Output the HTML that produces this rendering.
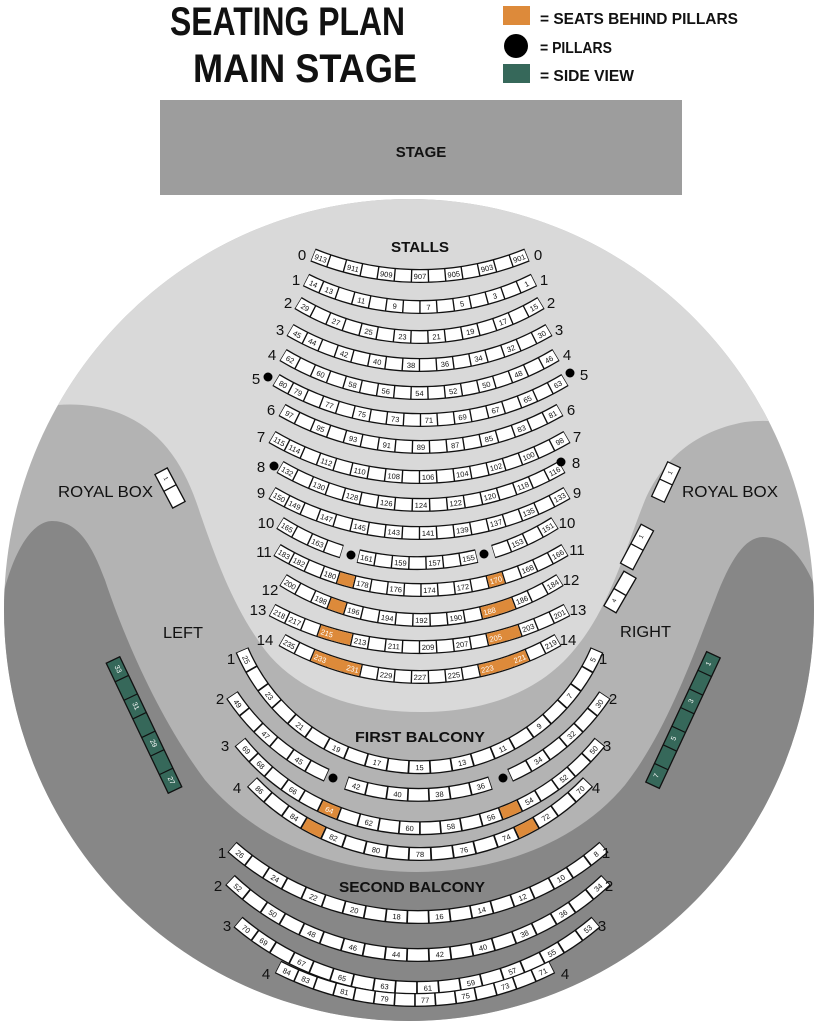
<!DOCTYPE html>
<html><head><meta charset="utf-8"><style>
html,body{margin:0;padding:0;background:#fff}
svg{display:block}
.b{fill:none;stroke:#111;stroke-width:14}
.w{fill:none;stroke:#fff;stroke-width:11.4;stroke-dasharray:.92 .08;stroke-dashoffset:-.04}
.o{fill:none;stroke:#dd8a3a;stroke-width:11.4}
.n{font-family:"Liberation Sans",sans-serif;font-size:7.5px;dominant-baseline:central;text-anchor:middle;fill:#111}
.nw{fill:#fff}
.rl{font-family:"Liberation Sans",sans-serif;font-size:15px;text-anchor:middle;fill:#111}
.lb{font-family:"Liberation Sans",sans-serif;font-weight:bold;fill:#111}
</style></head><body>
<svg width="818" height="1024" viewBox="0 0 818 1024" xmlns="http://www.w3.org/2000/svg">
<defs>
<clipPath id="cl"><ellipse cx="409" cy="610" rx="405" ry="411"/></clipPath>
<path id="s0" d="M313,255 A283,283 0 0 0 527,255" pathLength="13"/>
<path id="s1" d="M306,280 A254,254 0 0 0 534,280" pathLength="14"/>
<path id="s2" d="M298,303 A234,234 0 0 0 541,303" pathLength="15"/>
<path id="s3" d="M290,330 A257,257 0 0 0 549,330" pathLength="16"/>
<path id="s4" d="M283,355 A264,264 0 0 0 556,355" pathLength="17"/>
<path id="s5" d="M276,380 A281,281 0 0 0 565,380" pathLength="18"/>
<path id="s6" d="M282,410 A280,280 0 0 0 560,410" pathLength="17"/>
<path id="s7" d="M272,437 A292,292 0 0 0 567,437" pathLength="18"/>
<path id="s8" d="M280,467 A281,281 0 0 0 562,467" pathLength="17"/>
<path id="s9" d="M272,493 A292,292 0 0 0 567,493" pathLength="18"/>
<path id="s10" d="M280,523 A256,256 0 0 0 555,523" pathLength="17"/>
<path id="s11" d="M277,550 A279,279 0 0 0 565,550" pathLength="18"/>
<path id="s12" d="M283,580 A260,260 0 0 0 560,580" pathLength="17"/>
<path id="s13" d="M272,610 A312,312 0 0 0 567,610" pathLength="18"/>
<path id="s14" d="M282,640 A276,276 0 0 0 558,640" pathLength="17"/>
<path id="f1" d="M242,650 A193,193 0 0 0 597,650" pathLength="21"/>
<path id="f2" d="M232,695 A224,224 0 0 0 605,695" pathLength="21"/>
<path id="f3" d="M240,742 A231,231 0 0 0 600,742" pathLength="20"/>
<path id="f4" d="M252,782 A232,232 0 0 0 588,782" pathLength="17"/>
<path id="b1" d="M232,847 A282,282 0 0 0 604,847" pathLength="19"/>
<path id="b2" d="M230,880 A273,273 0 0 0 606,880" pathLength="19"/>
<path id="b3" d="M238,922 A276,276 0 0 0 596,922" pathLength="18"/>
<path id="b4" d="M278,967 A301,301 0 0 0 552,967" pathLength="14"/>
</defs>

<!-- Title & legend -->
<text class="lb" x="170" y="35" font-size="40" textLength="235" lengthAdjust="spacingAndGlyphs">SEATING PLAN</text>
<text class="lb" x="193" y="82" font-size="40" textLength="224" lengthAdjust="spacingAndGlyphs">MAIN STAGE</text>
<rect x="503" y="6" width="27" height="19" fill="#dd8a3a"/>
<circle cx="516" cy="46" r="12" fill="#000"/>
<rect x="503" y="64" width="27" height="19" fill="#36685a"/>
<text class="lb" x="540" y="24" font-size="16" textLength="198" lengthAdjust="spacingAndGlyphs">= SEATS BEHIND PILLARS</text>
<text class="lb" x="540" y="53" font-size="16" textLength="72" lengthAdjust="spacingAndGlyphs">= PILLARS</text>
<text class="lb" x="540" y="81" font-size="16" textLength="94" lengthAdjust="spacingAndGlyphs">= SIDE VIEW</text>

<!-- Stage -->
<rect x="160" y="100" width="522" height="95" fill="#9d9d9d"/>
<text class="lb" x="421" y="157" font-size="15" text-anchor="middle">STAGE</text>

<!-- Auditorium background -->
<g clip-path="url(#cl)">
<rect x="0" y="190" width="818" height="834" fill="#b3b3b3"/>
<path fill="#d9d9d9" d="M-5,180 H823 V440 C800,425 780,418 745,422 C700,430 665,455 645,500 C625,550 610,605 578,645 C540,695 480,712 420,712 C360,712 300,695 265,650 C235,610 218,565 200,513 C185,465 160,425 110,410 C80,401 40,402 -5,420 Z"/>
<path fill="#878787" d="M-5,640 C5,560 30,521 52,521 C78,521 92,545 105,580 C125,640 160,720 205,780 C260,845 340,872 417,872 C494,872 575,845 625,785 C668,730 695,650 715,600 C730,560 745,537 763,537 C790,537 810,565 823,610 V1030 H-5 Z"/>
</g>

<!-- Labels -->
<text class="lb" x="420" y="252" font-size="15" text-anchor="middle" textLength="58" lengthAdjust="spacingAndGlyphs">STALLS</text>
<text class="lb" x="58" y="497" font-size="16" textLength="95" lengthAdjust="spacingAndGlyphs" style="font-weight:normal">ROYAL BOX</text>
<text class="lb" x="682" y="497" font-size="16" textLength="96" lengthAdjust="spacingAndGlyphs" style="font-weight:normal">ROYAL BOX</text>
<text class="lb" x="163" y="638" font-size="16" textLength="40" lengthAdjust="spacingAndGlyphs" style="font-weight:normal">LEFT</text>
<text class="lb" x="620" y="637" font-size="16" textLength="51" lengthAdjust="spacingAndGlyphs" style="font-weight:normal">RIGHT</text>
<text class="lb" x="420" y="742" font-size="15" text-anchor="middle" textLength="130" lengthAdjust="spacingAndGlyphs">FIRST BALCONY</text>
<text class="lb" x="412" y="892" font-size="15" text-anchor="middle" textLength="146" lengthAdjust="spacingAndGlyphs">SECOND BALCONY</text>

<!-- Stalls rows -->
<g>
<use href="#s0" class="b"/><use href="#s0" class="w"/>
<use href="#s1" class="b"/><use href="#s1" class="w"/>
<use href="#s2" class="b"/><use href="#s2" class="w"/>
<use href="#s3" class="b"/><use href="#s3" class="w"/>
<use href="#s4" class="b"/><use href="#s4" class="w"/>
<use href="#s5" class="b"/><use href="#s5" class="w"/>
<use href="#s6" class="b"/><use href="#s6" class="w"/>
<use href="#s7" class="b"/><use href="#s7" class="w"/>
<use href="#s8" class="b"/><use href="#s8" class="w"/>
<use href="#s9" class="b"/><use href="#s9" class="w"/>
<use href="#s10" class="b" style="stroke-dasharray:4 1 7 1 4"/>
<use href="#s10" class="w" style="stroke-dashoffset:0;stroke-dasharray:0 .04 .92 .08 .92 .08 .92 .08 .92 1.08 .92 .08 .92 .08 .92 .08 .92 .08 .92 .08 .92 .08 .92 1.08 .92 .08 .92 .08 .92 .08 .92 100"/>
<use href="#s11" class="b"/><use href="#s11" class="w"/>
<use href="#s11" class="o" style="stroke-dasharray:0 4.04 .92 8.08 .92 100"/>
<use href="#s12" class="b"/><use href="#s12" class="w"/>
<use href="#s12" class="o" style="stroke-dasharray:0 3.04 .92 8.08 1.92 100"/>
<use href="#s13" class="b"/><use href="#s13" class="w"/>
<use href="#s13" class="o" style="stroke-dasharray:0 3.04 1.92 8.08 1.92 100"/>
<use href="#s14" class="b"/><use href="#s14" class="w"/>
<use href="#s14" class="o" style="stroke-dasharray:0 2.04 2.92 7.08 2.92 100"/>
</g>

<text class="n"><textPath href="#s0" startOffset="3.85%">913</textPath><textPath href="#s0" startOffset="19.23%">911</textPath><textPath href="#s0" startOffset="34.62%">909</textPath><textPath href="#s0" startOffset="50%">907</textPath><textPath href="#s0" startOffset="65.38%">905</textPath><textPath href="#s0" startOffset="80.77%">903</textPath><textPath href="#s0" startOffset="96.15%">901</textPath></text>
<text class="n"><textPath href="#s1" startOffset="3.57%">14</textPath><textPath href="#s1" startOffset="10.71%">13</textPath><textPath href="#s1" startOffset="25%">11</textPath><textPath href="#s1" startOffset="39.29%">9</textPath><textPath href="#s1" startOffset="53.57%">7</textPath><textPath href="#s1" startOffset="67.86%">5</textPath><textPath href="#s1" startOffset="82.14%">3</textPath><textPath href="#s1" startOffset="96.43%">1</textPath></text>
<text class="n"><textPath href="#s2" startOffset="3.33%">29</textPath><textPath href="#s2" startOffset="16.67%">27</textPath><textPath href="#s2" startOffset="30%">25</textPath><textPath href="#s2" startOffset="43.33%">23</textPath><textPath href="#s2" startOffset="56.67%">21</textPath><textPath href="#s2" startOffset="70%">19</textPath><textPath href="#s2" startOffset="83.33%">17</textPath><textPath href="#s2" startOffset="96.67%">15</textPath></text>
<text class="n"><textPath href="#s3" startOffset="3.13%">45</textPath><textPath href="#s3" startOffset="9.38%">44</textPath><textPath href="#s3" startOffset="21.88%">42</textPath><textPath href="#s3" startOffset="34.38%">40</textPath><textPath href="#s3" startOffset="46.88%">38</textPath><textPath href="#s3" startOffset="59.38%">36</textPath><textPath href="#s3" startOffset="71.88%">34</textPath><textPath href="#s3" startOffset="84.38%">32</textPath><textPath href="#s3" startOffset="96.88%">30</textPath></text>
<text class="n"><textPath href="#s4" startOffset="2.94%">62</textPath><textPath href="#s4" startOffset="14.71%">60</textPath><textPath href="#s4" startOffset="26.47%">58</textPath><textPath href="#s4" startOffset="38.24%">56</textPath><textPath href="#s4" startOffset="50%">54</textPath><textPath href="#s4" startOffset="61.76%">52</textPath><textPath href="#s4" startOffset="73.53%">50</textPath><textPath href="#s4" startOffset="85.29%">48</textPath><textPath href="#s4" startOffset="97.06%">46</textPath></text>
<text class="n"><textPath href="#s5" startOffset="2.78%">80</textPath><textPath href="#s5" startOffset="8.33%">79</textPath><textPath href="#s5" startOffset="19.44%">77</textPath><textPath href="#s5" startOffset="30.56%">75</textPath><textPath href="#s5" startOffset="41.67%">73</textPath><textPath href="#s5" startOffset="52.78%">71</textPath><textPath href="#s5" startOffset="63.89%">69</textPath><textPath href="#s5" startOffset="75%">67</textPath><textPath href="#s5" startOffset="86.11%">65</textPath><textPath href="#s5" startOffset="97.22%">63</textPath></text>
<text class="n"><textPath href="#s6" startOffset="2.94%">97</textPath><textPath href="#s6" startOffset="14.71%">95</textPath><textPath href="#s6" startOffset="26.47%">93</textPath><textPath href="#s6" startOffset="38.24%">91</textPath><textPath href="#s6" startOffset="50%">89</textPath><textPath href="#s6" startOffset="61.76%">87</textPath><textPath href="#s6" startOffset="73.53%">85</textPath><textPath href="#s6" startOffset="85.29%">83</textPath><textPath href="#s6" startOffset="97.06%">81</textPath></text>
<text class="n"><textPath href="#s7" startOffset="2.78%">115</textPath><textPath href="#s7" startOffset="8.33%">114</textPath><textPath href="#s7" startOffset="19.44%">112</textPath><textPath href="#s7" startOffset="30.56%">110</textPath><textPath href="#s7" startOffset="41.67%">108</textPath><textPath href="#s7" startOffset="52.78%">106</textPath><textPath href="#s7" startOffset="63.89%">104</textPath><textPath href="#s7" startOffset="75%">102</textPath><textPath href="#s7" startOffset="86.11%">100</textPath><textPath href="#s7" startOffset="97.22%">98</textPath></text>
<text class="n"><textPath href="#s8" startOffset="2.94%">132</textPath><textPath href="#s8" startOffset="14.71%">130</textPath><textPath href="#s8" startOffset="26.47%">128</textPath><textPath href="#s8" startOffset="38.24%">126</textPath><textPath href="#s8" startOffset="50%">124</textPath><textPath href="#s8" startOffset="61.76%">122</textPath><textPath href="#s8" startOffset="73.53%">120</textPath><textPath href="#s8" startOffset="85.29%">118</textPath><textPath href="#s8" startOffset="97.06%">116</textPath></text>
<text class="n"><textPath href="#s9" startOffset="2.78%">150</textPath><textPath href="#s9" startOffset="8.33%">149</textPath><textPath href="#s9" startOffset="19.44%">147</textPath><textPath href="#s9" startOffset="30.56%">145</textPath><textPath href="#s9" startOffset="41.67%">143</textPath><textPath href="#s9" startOffset="52.78%">141</textPath><textPath href="#s9" startOffset="63.89%">139</textPath><textPath href="#s9" startOffset="75%">137</textPath><textPath href="#s9" startOffset="86.11%">135</textPath><textPath href="#s9" startOffset="97.22%">133</textPath></text>
<text class="n"><textPath href="#s10" startOffset="2.94%">165</textPath><textPath href="#s10" startOffset="14.71%">163</textPath><textPath href="#s10" startOffset="32.35%">161</textPath><textPath href="#s10" startOffset="44.12%">159</textPath><textPath href="#s10" startOffset="55.88%">157</textPath><textPath href="#s10" startOffset="67.65%">155</textPath><textPath href="#s10" startOffset="85.29%">153</textPath><textPath href="#s10" startOffset="97.06%">151</textPath></text>
<text class="n"><textPath href="#s11" startOffset="2.78%">183</textPath><textPath href="#s11" startOffset="8.33%">182</textPath><textPath href="#s11" startOffset="19.44%">180</textPath><textPath href="#s11" startOffset="30.56%">178</textPath><textPath href="#s11" startOffset="41.67%">176</textPath><textPath href="#s11" startOffset="52.78%">174</textPath><textPath href="#s11" startOffset="63.89%">172</textPath><textPath href="#s11" startOffset="75%" class="nw">170</textPath><textPath href="#s11" startOffset="86.11%">168</textPath><textPath href="#s11" startOffset="97.22%">166</textPath></text>
<text class="n"><textPath href="#s12" startOffset="2.94%">200</textPath><textPath href="#s12" startOffset="14.71%">198</textPath><textPath href="#s12" startOffset="26.47%">196</textPath><textPath href="#s12" startOffset="38.24%">194</textPath><textPath href="#s12" startOffset="50%">192</textPath><textPath href="#s12" startOffset="61.76%">190</textPath><textPath href="#s12" startOffset="73.53%" class="nw">188</textPath><textPath href="#s12" startOffset="85.29%">186</textPath><textPath href="#s12" startOffset="97.06%">184</textPath></text>
<text class="n"><textPath href="#s13" startOffset="2.78%">218</textPath><textPath href="#s13" startOffset="8.33%">217</textPath><textPath href="#s13" startOffset="19.44%" class="nw">215</textPath><textPath href="#s13" startOffset="30.56%">213</textPath><textPath href="#s13" startOffset="41.67%">211</textPath><textPath href="#s13" startOffset="52.78%">209</textPath><textPath href="#s13" startOffset="63.89%">207</textPath><textPath href="#s13" startOffset="75%" class="nw">205</textPath><textPath href="#s13" startOffset="86.11%">203</textPath><textPath href="#s13" startOffset="97.22%">201</textPath></text>
<text class="n"><textPath href="#s14" startOffset="2.94%">235</textPath><textPath href="#s14" startOffset="14.71%" class="nw">233</textPath><textPath href="#s14" startOffset="26.47%" class="nw">231</textPath><textPath href="#s14" startOffset="38.24%">229</textPath><textPath href="#s14" startOffset="50%">227</textPath><textPath href="#s14" startOffset="61.76%">225</textPath><textPath href="#s14" startOffset="73.53%" class="nw">223</textPath><textPath href="#s14" startOffset="85.29%" class="nw">221</textPath><textPath href="#s14" startOffset="97.06%">219</textPath></text>

<!-- Stalls row labels -->
<g class="rl">
<text x="302" y="260">0</text><text x="538" y="260">0</text>
<text x="296" y="285">1</text><text x="544" y="285">1</text>
<text x="288" y="308">2</text><text x="551" y="308">2</text>
<text x="280" y="335">3</text><text x="559" y="335">3</text>
<text x="272" y="360">4</text><text x="567" y="360">4</text>
<text x="256" y="384">5</text><text x="584" y="380">5</text>
<text x="271" y="415">6</text><text x="571" y="415">6</text>
<text x="261" y="442">7</text><text x="577" y="442">7</text>
<text x="261" y="472">8</text><text x="576" y="468">8</text>
<text x="261" y="498">9</text><text x="577" y="498">9</text>
<text x="266" y="528">10</text><text x="567" y="528">10</text>
<text x="264" y="557">11</text><text x="577" y="555">11</text>
<text x="270" y="595">12</text><text x="571" y="585">12</text>
<text x="258" y="615">13</text><text x="578" y="615">13</text>
<text x="265" y="645">14</text><text x="568" y="645">14</text>
</g>
<g fill="#000">
<circle cx="268" cy="377" r="4.5"/><circle cx="570" cy="373" r="4.5"/>
<circle cx="274" cy="466" r="4.5"/><circle cx="561" cy="462" r="4.5"/>
<circle cx="351" cy="555" r="4.5"/><circle cx="484" cy="554" r="4.5"/>
<circle cx="333" cy="778" r="4.5"/><circle cx="503" cy="778" r="4.5"/>
</g>

<!-- First balcony -->
<use href="#f1" class="b"/><use href="#f1" class="w"/>
<use href="#f2" class="b" style="stroke-dasharray:6 1 7 1 6"/>
<use href="#f2" class="w" style="stroke-dashoffset:0;stroke-dasharray:0 .04 .92 .08 .92 .08 .92 .08 .92 .08 .92 .08 .92 1.08 .92 .08 .92 .08 .92 .08 .92 .08 .92 .08 .92 .08 .92 1.08 .92 .08 .92 .08 .92 .08 .92 .08 .92 .08 .92 100"/>
<use href="#f3" class="b"/><use href="#f3" class="w"/>
<use href="#f3" class="o" style="stroke-dasharray:0 5.04 .92 8.08 .92 100"/>
<use href="#f4" class="b"/><use href="#f4" class="w"/>
<use href="#f4" class="o" style="stroke-dasharray:0 3.04 .92 9.08 .92 100"/>

<text class="n"><textPath href="#f1" startOffset="2.38%">25</textPath><textPath href="#f1" startOffset="11.9%">23</textPath><textPath href="#f1" startOffset="21.43%">21</textPath><textPath href="#f1" startOffset="30.95%">19</textPath><textPath href="#f1" startOffset="40.48%">17</textPath><textPath href="#f1" startOffset="50%">15</textPath><textPath href="#f1" startOffset="59.52%">13</textPath><textPath href="#f1" startOffset="69.05%">11</textPath><textPath href="#f1" startOffset="78.57%">9</textPath><textPath href="#f1" startOffset="88.1%">7</textPath><textPath href="#f1" startOffset="97.62%">5</textPath></text>
<text class="n"><textPath href="#f2" startOffset="2.38%">49</textPath><textPath href="#f2" startOffset="11.9%">47</textPath><textPath href="#f2" startOffset="21.43%">45</textPath><textPath href="#f2" startOffset="35.71%">42</textPath><textPath href="#f2" startOffset="45.24%">40</textPath><textPath href="#f2" startOffset="54.76%">38</textPath><textPath href="#f2" startOffset="64.29%">36</textPath><textPath href="#f2" startOffset="78.57%">34</textPath><textPath href="#f2" startOffset="88.1%">32</textPath><textPath href="#f2" startOffset="97.62%">30</textPath></text>
<text class="n"><textPath href="#f3" startOffset="2.5%">69</textPath><textPath href="#f3" startOffset="7.5%">68</textPath><textPath href="#f3" startOffset="17.5%">66</textPath><textPath href="#f3" startOffset="27.5%" class="nw">64</textPath><textPath href="#f3" startOffset="37.5%">62</textPath><textPath href="#f3" startOffset="47.5%">60</textPath><textPath href="#f3" startOffset="57.5%">58</textPath><textPath href="#f3" startOffset="67.5%">56</textPath><textPath href="#f3" startOffset="77.5%">54</textPath><textPath href="#f3" startOffset="87.5%">52</textPath><textPath href="#f3" startOffset="97.5%">50</textPath></text>
<text class="n"><textPath href="#f4" startOffset="2.94%">86</textPath><textPath href="#f4" startOffset="14.71%">84</textPath><textPath href="#f4" startOffset="26.47%">82</textPath><textPath href="#f4" startOffset="38.24%">80</textPath><textPath href="#f4" startOffset="50%">78</textPath><textPath href="#f4" startOffset="61.76%">76</textPath><textPath href="#f4" startOffset="73.53%">74</textPath><textPath href="#f4" startOffset="85.29%">72</textPath><textPath href="#f4" startOffset="97.06%">70</textPath></text>
<g class="rl">
<text x="231" y="664">1</text><text x="603" y="664">1</text>
<text x="220" y="704">2</text><text x="613" y="704">2</text>
<text x="225" y="751">3</text><text x="607" y="751">3</text>
<text x="237" y="793">4</text><text x="596" y="793">4</text>
</g>

<!-- Second balcony -->
<use href="#b1" class="b"/><use href="#b1" class="w"/>
<use href="#b2" class="b"/><use href="#b2" class="w"/>
<use href="#b3" class="b"/><use href="#b3" class="w"/>
<use href="#b4" class="b"/><use href="#b4" class="w"/>
<text class="n"><textPath href="#b1" startOffset="2.63%">26</textPath><textPath href="#b1" startOffset="13.16%">24</textPath><textPath href="#b1" startOffset="23.68%">22</textPath><textPath href="#b1" startOffset="34.21%">20</textPath><textPath href="#b1" startOffset="44.74%">18</textPath><textPath href="#b1" startOffset="55.26%">16</textPath><textPath href="#b1" startOffset="65.79%">14</textPath><textPath href="#b1" startOffset="76.32%">12</textPath><textPath href="#b1" startOffset="86.84%">10</textPath><textPath href="#b1" startOffset="97.37%">8</textPath></text>
<text class="n"><textPath href="#b2" startOffset="2.63%">52</textPath><textPath href="#b2" startOffset="13.16%">50</textPath><textPath href="#b2" startOffset="23.68%">48</textPath><textPath href="#b2" startOffset="34.21%">46</textPath><textPath href="#b2" startOffset="44.74%">44</textPath><textPath href="#b2" startOffset="55.26%">42</textPath><textPath href="#b2" startOffset="65.79%">40</textPath><textPath href="#b2" startOffset="76.32%">38</textPath><textPath href="#b2" startOffset="86.84%">36</textPath><textPath href="#b2" startOffset="97.37%">34</textPath></text>
<text class="n"><textPath href="#b3" startOffset="2.78%">70</textPath><textPath href="#b3" startOffset="8.33%">69</textPath><textPath href="#b3" startOffset="19.44%">67</textPath><textPath href="#b3" startOffset="30.56%">65</textPath><textPath href="#b3" startOffset="41.67%">63</textPath><textPath href="#b3" startOffset="52.78%">61</textPath><textPath href="#b3" startOffset="63.89%">59</textPath><textPath href="#b3" startOffset="75%">57</textPath><textPath href="#b3" startOffset="86.11%">55</textPath><textPath href="#b3" startOffset="97.22%">53</textPath></text>
<text class="n"><textPath href="#b4" startOffset="3.57%">84</textPath><textPath href="#b4" startOffset="10.71%">83</textPath><textPath href="#b4" startOffset="25%">81</textPath><textPath href="#b4" startOffset="39.29%">79</textPath><textPath href="#b4" startOffset="53.57%">77</textPath><textPath href="#b4" startOffset="67.86%">75</textPath><textPath href="#b4" startOffset="82.14%">73</textPath><textPath href="#b4" startOffset="96.43%">71</textPath></text>
<g class="rl">
<text x="222" y="858">1</text><text x="606" y="858">1</text>
<text x="218" y="891">2</text><text x="609" y="891">2</text>
<text x="227" y="931">3</text><text x="602" y="931">3</text>
<text x="266" y="979">4</text><text x="565" y="979">4</text>
</g>

<!-- Royal boxes -->
<g stroke="#111" stroke-width="1.3" fill="#fff">
<g transform="translate(170,488) rotate(-28)"><rect x="-7" y="-19" width="14" height="38"/><line x1="-7" y1="0" x2="7" y2="0"/></g>
<g transform="translate(666,482) rotate(25)"><rect x="-7" y="-19" width="14" height="38"/><line x1="-7" y1="0" x2="7" y2="0"/></g>
<g transform="translate(637,547) rotate(28)"><rect x="-7" y="-22" width="14" height="44"/><line x1="-7" y1="0" x2="7" y2="0"/></g>
<g transform="translate(620,592) rotate(30)"><rect x="-7" y="-20" width="14" height="40"/><line x1="-7" y1="0" x2="7" y2="0"/></g>
</g>
<g class="n" style="font-size:6px">
<text transform="translate(165,479) rotate(62)">1</text>
<text transform="translate(671,473) rotate(-65)">1</text>
<text transform="translate(642,537) rotate(-62)">1</text>
<text transform="translate(615,601) rotate(-60)">4</text>
</g>

<!-- Side view -->
<g transform="translate(144,725) rotate(-25.5)">
<rect x="-7.5" y="-72" width="15" height="144" fill="#36685a" stroke="#111" stroke-width="1.3"/>
<g stroke="#111" stroke-width="1.2"><line x1="-7.5" y1="-51.4" x2="7.5" y2="-51.4"/><line x1="-7.5" y1="-30.9" x2="7.5" y2="-30.9"/><line x1="-7.5" y1="-10.3" x2="7.5" y2="-10.3"/><line x1="-7.5" y1="10.3" x2="7.5" y2="10.3"/><line x1="-7.5" y1="30.9" x2="7.5" y2="30.9"/><line x1="-7.5" y1="51.4" x2="7.5" y2="51.4"/></g>
<g class="n nw" style="font-size:7px"><text transform="translate(0,-61.7) rotate(90)">33</text><text transform="translate(0,-20.6) rotate(90)">31</text><text transform="translate(0,20.6) rotate(90)">29</text><text transform="translate(0,61.7) rotate(90)">27</text></g>
</g>
<g transform="translate(683,720) rotate(25)">
<rect x="-7.5" y="-72" width="15" height="144" fill="#36685a" stroke="#111" stroke-width="1.3"/>
<g stroke="#111" stroke-width="1.2"><line x1="-7.5" y1="-51.4" x2="7.5" y2="-51.4"/><line x1="-7.5" y1="-30.9" x2="7.5" y2="-30.9"/><line x1="-7.5" y1="-10.3" x2="7.5" y2="-10.3"/><line x1="-7.5" y1="10.3" x2="7.5" y2="10.3"/><line x1="-7.5" y1="30.9" x2="7.5" y2="30.9"/><line x1="-7.5" y1="51.4" x2="7.5" y2="51.4"/></g>
<g class="n nw" style="font-size:7px"><text transform="translate(0,-61.7) rotate(-90)">1</text><text transform="translate(0,-20.6) rotate(-90)">3</text><text transform="translate(0,20.6) rotate(-90)">5</text><text transform="translate(0,61.7) rotate(-90)">7</text></g>
</g>
</svg>
</body></html>
